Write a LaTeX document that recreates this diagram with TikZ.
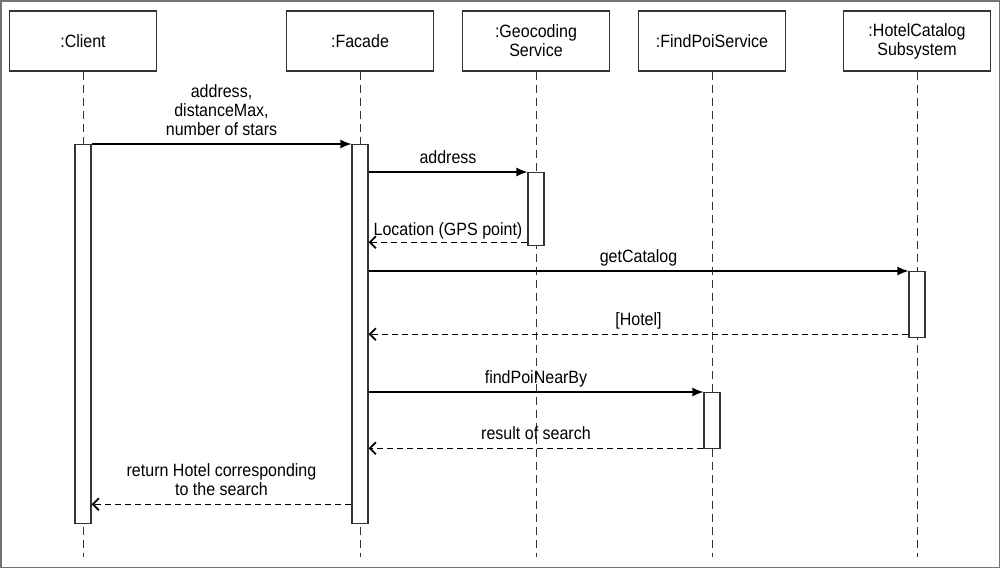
\documentclass[tikz,border=0pt]{standalone}
\usepackage{fontspec}
\setmainfont{Liberation Sans}[FakeStretch=0.9]
\usetikzlibrary{arrows.meta,calc,positioning}

\begin{document}
\begin{tikzpicture}[x=1pt,y=-1pt,font=\fontsize{17.8}{19}\selectfont,
  object/.style={draw=black!80,line width=1.2pt,minimum width=147pt,minimum height=60pt,align=center,inner sep=0pt},
  life/.style={draw=black!80,line width=1pt,dash pattern=on 8pt off 5pt},
  act/.style={draw=black!80,fill=white,line width=1.2pt,minimum width=16pt,inner sep=0pt,anchor=north},
  call/.style={line width=1.2pt,-{Latex[length=11pt,width=9pt]}},
  reply/.style={line width=1.2pt,dash pattern=on 6pt off 4pt,-{Straight Barb[length=6pt,width=12pt,line width=1.8pt]}},
  msg/.style={above=8pt,inner sep=0pt,text depth=0pt,align=center}]

        \useasboundingbox (0,0) rectangle (1000,568);
        \draw[black!55,line width=1.5pt] (0.75,0.75) rectangle (999.25,567.25);

        \node[object] (client) at (83,41) {:Client};
        \node[object] (facade) at (360,41) {:Facade};
        \node[object] (geo) at (536,41) {:Geocoding\\Service};
        \node[object] (poi) at (712,41) {:FindPoiService};
        \node[object] (hotel) at (917,41) {:HotelCatalog\\Subsystem};

        \coordinate (bottom) at (0,557);
        \foreach \o in {client,facade,geo,poi,hotel}
          \draw[life] (\o.south) -- (\o.south |- bottom);

        \node[act,minimum height=379pt] (clientAct) at (83,144) {};
        \node[act,minimum height=379pt] (facadeAct) at (360,144) {};
        \node[act,minimum height=73pt] (geoAct) at (536,172) {};
        \node[act,minimum height=66pt] (hotelAct) at (917,271) {};
        \node[act,minimum height=56pt] (poiAct) at (712,392) {};

        \draw[call] (clientAct.north east) -- node[msg] {address,\\distanceMax,\\number of stars} (facadeAct.north west);
        \draw[call] (facadeAct.east |- geoAct.north) -- node[msg] {address} (geoAct.north west);
        \draw[reply] ([yshift=4pt]geoAct.south west) coordinate (r1) -- node[msg,above=6pt] {Location (GPS point)} (facadeAct.east |- r1);
        \draw[call] (facadeAct.east |- hotelAct.north) -- node[msg] {getCatalog} (hotelAct.north west);
        \draw[reply] ([yshift=4pt]hotelAct.south west) coordinate (r2) -- node[msg] {[Hotel]} (facadeAct.east |- r2);
        \draw[call] (facadeAct.east |- poiAct.north) -- node[msg] {findPoiNearBy} (poiAct.north west);
        \draw[reply] ([yshift=1pt]poiAct.south west) coordinate (r3) -- node[msg] {result of search} (facadeAct.east |- r3);
        \draw[reply] ([yshift=20pt]facadeAct.south west) coordinate (r4) -- node[msg] {return Hotel corresponding\\to the search} (clientAct.east |- r4);
      \end{tikzpicture}
\end{document}
